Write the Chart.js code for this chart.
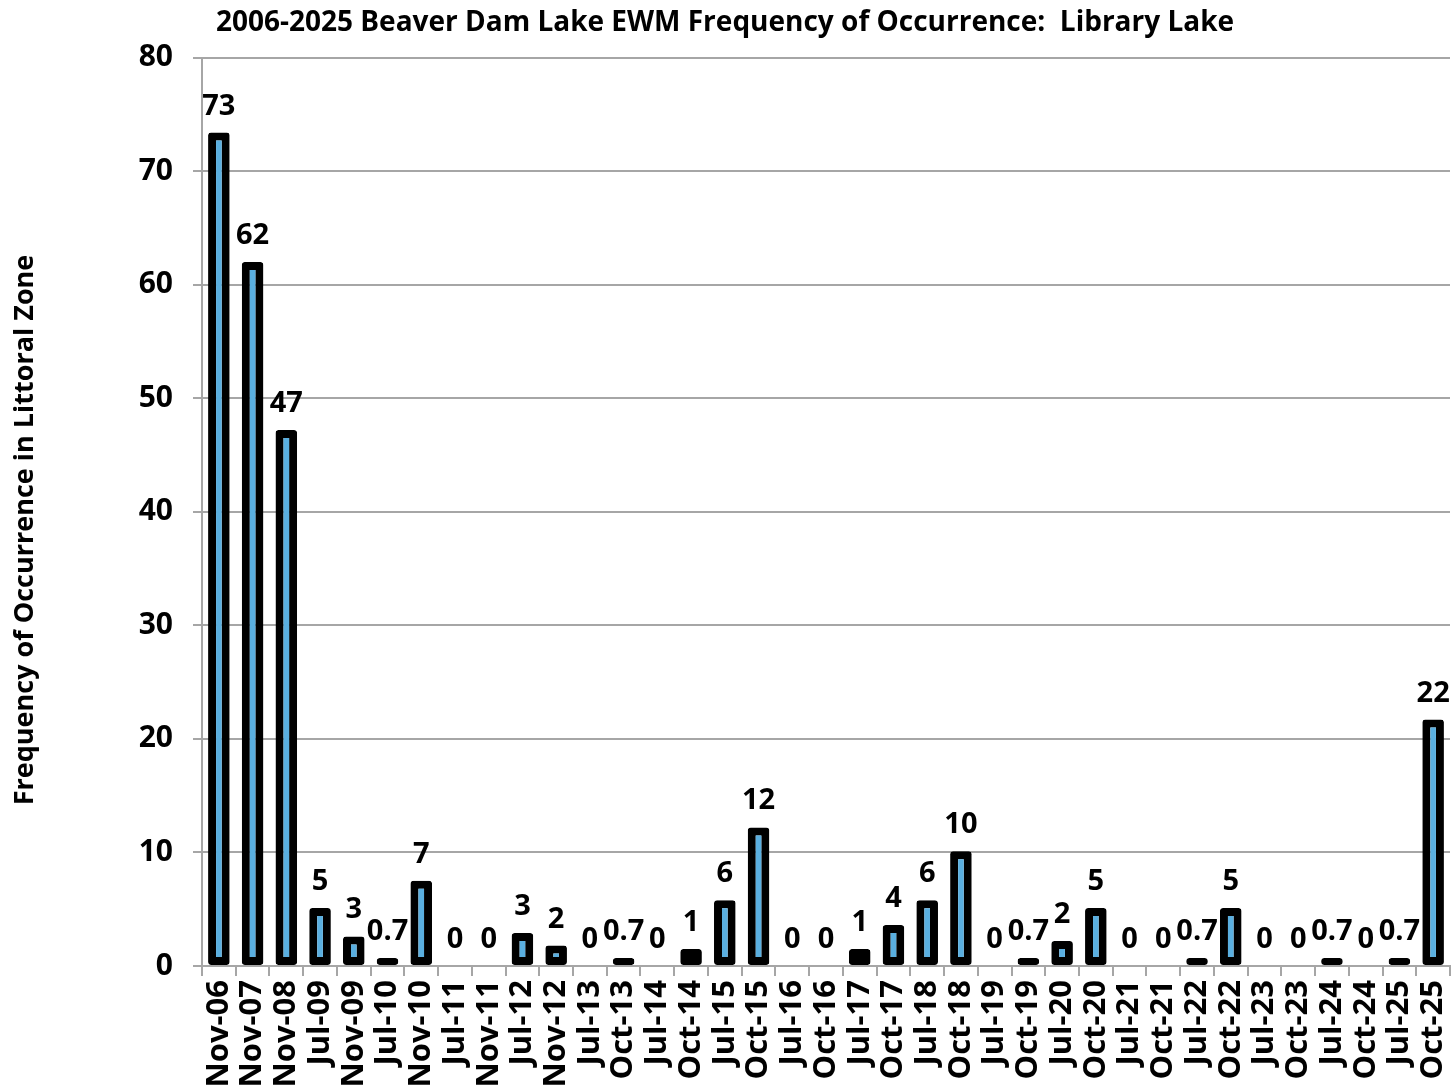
<!DOCTYPE html>
<html>
<head>
<meta charset="utf-8">
<script src="https://cdn.jsdelivr.net/npm/chart.js@4.4.1/dist/chart.umd.min.js"></script>
<style>
  html, body { margin: 0; padding: 0; background: #fff; }
  #wrap { width: 1452px; height: 1091px; }
</style>
</head>
<body>
<div id="wrap"><canvas id="ewmChart" width="1452" height="1091"></canvas></div>
<script>
const surveys = ['Nov-06', 'Nov-07', 'Nov-08', 'Jul-09', 'Nov-09', 'Jul-10', 'Nov-10', 'Jul-11', 'Nov-11',
  'Jul-12', 'Nov-12', 'Jul-13', 'Oct-13', 'Jul-14', 'Oct-14', 'Jul-15', 'Oct-15', 'Jul-16', 'Oct-16',
  'Jul-17', 'Oct-17', 'Jul-18', 'Oct-18', 'Jul-19', 'Oct-19', 'Jul-20', 'Oct-20', 'Jul-21', 'Oct-21',
  'Jul-22', 'Oct-22', 'Jul-23', 'Oct-23', 'Jul-24', 'Oct-24', 'Jul-25', 'Oct-25'];
const frequency = [73.4, 62, 47.2, 5.1, 2.6, 0.7, 7.5, 0, 0,
  2.9, 1.8, 0, 0.7, 0, 1.5, 5.8, 12.2, 0, 0,
  1.5, 3.6, 5.8, 10.1, 0, 0.7, 2.2, 5.1, 0, 0,
  0.7, 5.1, 0, 0, 0.7, 0, 0.7, 21.7];
const valueLabels = ['73', '62', '47', '5', '3', '0.7', '7', '0', '0',
  '3', '2', '0', '0.7', '0', '1', '6', '12', '0', '0',
  '1', '4', '6', '10', '0', '0.7', '2', '5', '0', '0',
  '0.7', '5', '0', '0', '0.7', '0', '0.7', '22'];
const yTicks = [0, 10, 20, 30, 40, 50, 60, 70, 80];

const FONT = '"Open Sans", "Noto Sans", sans-serif';
const GRID = '#a6a6a6';

// values written above each bar
const barLabels = {
  id: 'barLabels',
  afterDatasetsDraw(chart) {
    const ctx = chart.ctx;
    const meta = chart.getDatasetMeta(0);
    ctx.save();
    ctx.font = 'bold 29px ' + FONT;
    ctx.fillStyle = '#000';
    ctx.textAlign = 'center';
    ctx.textBaseline = 'alphabetic';
    meta.data.forEach((bar, i) => {
      ctx.fillText(valueLabels[i], bar.x, bar.y - 18);
    });
    ctx.restore();
  }
};

// y axis title, centred on the whole canvas height like the original
const yTitle = {
  id: 'yTitle',
  afterDraw(chart) {
    const ctx = chart.ctx;
    ctx.save();
    ctx.translate(25, 530);
    ctx.rotate(-Math.PI / 2);
    ctx.font = 'bold 27px ' + FONT;
    ctx.fillStyle = '#000';
    ctx.textAlign = 'center';
    ctx.textBaseline = 'middle';
    ctx.fillText('Frequency of Occurrence in Littoral Zone', 0, 0);
    ctx.restore();
  }
};

new Chart(document.getElementById('ewmChart').getContext('2d'), {
  type: 'bar',
  data: {
    labels: surveys,
    datasets: [{
      data: frequency,
      backgroundColor: '#5aafe0',
      borderColor: '#000',
      borderWidth: 8,
      borderRadius: 3,
      borderSkipped: false,
      barPercentage: 0.64,
      categoryPercentage: 1
    }]
  },
  options: {
    responsive: false,
    animation: false,
    layout: { padding: { left: 0, right: 2, top: 0, bottom: 0 } },
    plugins: {
      legend: { display: false },
      tooltip: { enabled: false },
      title: {
        display: true,
        text: '2006-2025 Beaver Dam Lake EWM Frequency of Occurrence:  Library Lake',
        color: '#000',
        font: { family: FONT, size: 28, weight: 'bold' },
        padding: { top: 6, bottom: 18 }
      }
    },
    scales: {
      x: {
        grid: { drawOnChartArea: false, drawTicks: true, tickLength: 10, color: GRID, lineWidth: 2, offset: true },
        border: { display: true, color: GRID, width: 2 },
        ticks: {
          autoSkip: false,
          minRotation: 90,
          maxRotation: 90,
          padding: 4,
          color: '#000',
          font: { family: FONT, size: 31, weight: 'bold' }
        },
        afterFit(scale) {
          scale.height = 125;
          scale.paddingLeft = 0;
          scale.paddingRight = 0;
        }
      },
      y: {
        min: 0,
        max: 80,
        afterBuildTicks(scale) { scale.ticks = yTicks.map(v => ({ value: v })); },
        grid: { color: GRID, lineWidth: 2, tickLength: 9 },
        border: { display: true, color: GRID, width: 2 },
        ticks: {
          padding: 20,
          color: '#000',
          font: { family: FONT, size: 30, weight: 'bold' }
        },
        afterFit(scale) { scale.width = 202; }
      }
    }
  },
  plugins: [barLabels, yTitle]
});
</script>
</body>
</html>
